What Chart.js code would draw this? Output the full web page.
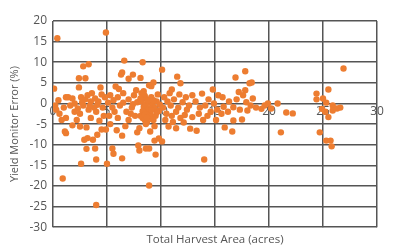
<!DOCTYPE html>
<html>
<head>
<meta charset="utf-8">
<script src="https://cdn.jsdelivr.net/npm/chart.js@4/dist/chart.umd.min.js"></script>
<style>
html,body{margin:0;padding:0;background:#fff;}
#wrap{width:400px;height:250px;position:relative;}
</style>
</head>
<body>
<div id="wrap"><canvas id="c" width="400" height="250"></canvas></div>
<script>
const xTitle = "Total Harvest Area (acres)";
const yTitle = "Yield Monitor Error (%)";
const xTicks = [0, 5, 10, 15, 20, 25, 30];
const yTicks = [-30, -25, -20, -15, -10, -5, 0, 5, 10, 15, 20];

const harvestArea = [
  0.1,0.4,0.2,0.3,0.6,1.0,1.2,1.4,1.8,1.2,1.1,1.2,0.9,1.8,0.8,1.6,2.0,0.5,
  2.4,3.0,2.8,3.3,2.4,2.6,3.0,3.2,3.5,2.8,3.3,2.5,3.8,4.4,4.2,4.0,4.6,4.8,3.5,2.2,4.3,2.5,3.1,4.5,4.9,2.9,3.2,3.7,4.1,3.1,3.9,4.0,2.6,5.0,4.0,4.9,4.7,2.0,3.6,4.5,2.3,3.9,2.7,3.4,4.1,
  5.8,6.6,6.4,6.3,7.4,7.0,5.3,5.6,6.0,6.5,7.0,7.5,5.5,6.2,6.8,7.3,7.8,5.2,6.0,7.0,7.6,5.9,6.4,7.8,5.5,5.6,6.4,7.9,8.0,5.3,6.7,7.2,6.1,7.7,5.1,5.7,6.5,7.4,
  8.3,8.1,9.3,8.9,9.1,8.2,8.5,8.7,8.9,9.2,8.4,8.6,8.8,9.0,9.4,9.6,9.8,8.1,8.3,8.5,8.7,9.0,9.3,9.5,8.2,8.4,8.6,8.9,9.1,9.7,9.9,8.3,8.8,9.2,9.4,8.6,8.9,8.6,8.9,9.5,9.4,9.8,10.1,8.0,9.0,8.4,9.6,8.1,8.5,9.1,8.7,9.3,
  10.1,11.5,11.8,11.0,12.9,10.3,10.6,10.9,11.2,11.6,12.0,12.4,10.5,11.0,11.4,11.8,12.2,12.6,10.7,11.4,12.7,10.2,10.8,11.7,12.3,10.4,12.9,11.1,12.1,
  13.8,14.8,13.3,14.0,13.2,13.6,14.1,14.4,14.9,15.3,15.7,15.2,15.6,13.5,14.3,15.9,13.9,14.6,15.1,15.8,
  17.8,16.9,18.2,18.4,17.8,17.6,18.5,16.7,17.5,16.7,18.0,16.6,16.3,17.0,17.3,18.3,16.2,17.9,18.8,17.2,
  19.3,19.9,20.8,21.6,22.2,21.1,19.6,20.2,
  26.9,25.5,24.4,24.4,25.0,25.3,25.9,26.3,26.6,25.9,25.5,24.7,25.3,25.7,25.8,25.2,24.9
];
const monitorError = [
  3.6,15.8,-0.5,-1.5,-2.5,-1.0,1.5,1.5,1.2,-3.5,-6.8,-7.2,-18.2,-5.3,-4.0,-0.5,-2.0,0.8,
  6.1,6.1,9.0,9.5,3.9,1.5,1.0,2.0,0.5,-0.5,-1.5,-2.5,-1.0,3.9,0.5,-2.0,-1.0,1.5,-3.5,-4.0,-4.2,-5.6,-5.8,-6.3,-6.3,-8.8,-8.4,-8.8,-7.6,-11.0,-10.9,-13.6,-14.6,-14.6,-24.6,17.2,-3.0,0.0,2.5,2.2,-1.2,1.2,0.3,-0.6,-0.3,
  4.1,10.4,7.5,7.0,7.0,6.0,2.0,0.8,1.5,2.5,1.0,2.0,-1.0,-0.5,-2.0,-1.0,0.3,-3.0,-3.5,-4.0,-3.0,-6.5,-7.8,-7.0,-10.9,-12.2,-13.3,-10.2,-11.4,-5.0,-5.5,-2.5,3.5,3.2,0.2,-2.0,0.2,-0.2,
  10.0,6.2,5.1,4.4,4.2,2.5,1.8,1.0,0.3,-0.5,-0.8,-1.5,-2.0,-2.5,-1.0,0.5,-1.8,-3.0,-3.5,-4.0,-4.5,-3.2,-4.0,-3.0,0.5,3.0,-0.2,-1.2,1.5,2.2,-0.3,-1.9,0.7,-3.8,-5.5,-5.0,-10.9,-10.9,-19.9,-12.4,-9.0,-8.5,-9.2,-6.0,-6.8,2.2,-2.2,1.2,-2.6,-1.6,-3.4,0.8,
  8.2,6.5,4.9,3.4,2.0,1.5,0.5,-0.5,1.0,-1.0,0.3,-1.5,-2.5,-3.0,-2.0,-3.5,-2.8,-0.5,-5.6,-6.0,-6.1,-1.0,2.5,2.2,1.5,-4.0,-3.3,-4.5,-4.6,
  2.4,3.4,-6.6,-13.6,0.5,-1.0,-0.5,1.0,0.0,2.0,1.5,-1.5,-2.5,-2.5,-3.0,-5.8,-4.0,-2.0,-4.0,-0.8,
  7.8,6.3,4.9,5.1,3.2,2.0,1.2,-0.9,-3.9,-4.1,-1.7,-6.8,0.5,1.0,-1.5,-0.5,-2.0,0.3,-1.0,2.8,
  -1.3,0.0,0.0,-2.2,-2.4,-7.0,-0.5,-1.2,
  8.5,3.4,2.4,1.0,1.2,0.2,-0.5,-1.2,-1.0,-1.7,-3.3,-7.0,-9.0,-9.0,-10.4,-2.0,-1.3
];

const points = harvestArea.map((x, i) => ({x: x, y: monitorError[i]}));
const gridColor = '#555555';
const textColor = '#555';
const fontFamily = "'Open Sans', 'DejaVu Sans', sans-serif";

new Chart(document.getElementById('c'), {
  type: 'scatter',
  data: {
    datasets: [{
      data: points,
      backgroundColor: '#ED7D31',
      borderColor: '#ED7D31',
      borderWidth: 0,
      pointRadius: 3.2,
      pointHoverRadius: 3.2
    }]
  },
  options: {
    responsive: false,
    animation: false,
    layout: {padding: {left: 4, right: 23, top: 21, bottom: 0}},
    plugins: {
      legend: {display: false},
      tooltip: {enabled: false},
      title: {
        display: true,
        position: 'bottom',
        fullSize: false,
        text: xTitle,
        color: textColor,
        font: {family: fontFamily, size: 11.5, weight: 'normal'},
        padding: {top: 6, bottom: 3}
      }
    },
    scales: {
      x: {
        type: 'linear',
        position: {y: 0},
        min: 0, max: 30,
        afterBuildTicks: (s) => { s.ticks = xTicks.map(v => ({value: v})); },
        grid: {color: gridColor, lineWidth: 1.5, drawTicks: false},
        border: {display: false},
        ticks: {color: textColor, padding: 1, font: {family: fontFamily, size: 12}}
      },
      y: {
        type: 'linear',
        min: -30, max: 20,
        afterBuildTicks: (s) => { s.ticks = yTicks.map(v => ({value: v})); },
        afterFit: (s) => { s.width = 49; },
        grid: {color: gridColor, lineWidth: 1.5, drawTicks: false},
        border: {display: false},
        ticks: {color: textColor, padding: 6, font: {family: fontFamily, size: 12}},
        title: {
          display: true,
          text: yTitle,
          color: textColor,
          font: {family: fontFamily, size: 11},
          padding: {top: 4, bottom: 0}
        }
      }
    }
  }
});
</script>
</body>
</html>
